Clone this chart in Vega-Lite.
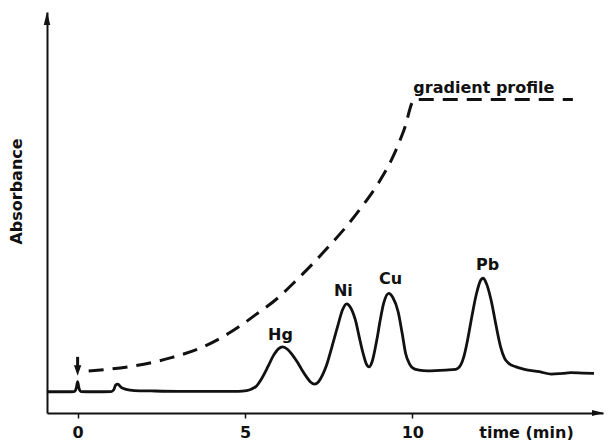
{
  "$schema": "https://vega.github.io/schema/vega-lite/v6.json",
  "width": 556,
  "height": 401,
  "autosize": {"type": "none"},
  "padding": {"left": 47, "top": 12, "right": 5, "bottom": 27},
  "background": "white",
  "config": {"view": {"stroke": null}, "font": "DejaVu Sans"},
  "datasets": {
    "trace": [
      {"t": -0.92, "A": 5.3}, {"t": -0.3, "A": 5.3}, {"t": -0.1, "A": 5.35}, {"t": -0.04, "A": 6.2}, {"t": 0, "A": 7.8}, {"t": 0.04, "A": 6.2}, {"t": 0.1, "A": 5.35},
      {"t": 0.5, "A": 5.3}, {"t": 1.0, "A": 5.35}, {"t": 1.08, "A": 5.8}, {"t": 1.14, "A": 7.0}, {"t": 1.2, "A": 7.2}, {"t": 1.3, "A": 6.4}, {"t": 1.45, "A": 5.9},
      {"t": 1.7, "A": 5.6}, {"t": 2.2, "A": 5.5}, {"t": 3.0, "A": 5.4}, {"t": 4.0, "A": 5.4}, {"t": 4.8, "A": 5.4}, {"t": 5.05, "A": 5.6}, {"t": 5.2, "A": 6.0},
      {"t": 5.34, "A": 6.7}, {"t": 5.5, "A": 8.6}, {"t": 5.69, "A": 11.6}, {"t": 5.85, "A": 14.3}, {"t": 6.0, "A": 16.0}, {"t": 6.13, "A": 16.5}, {"t": 6.27, "A": 15.9},
      {"t": 6.4, "A": 14.7}, {"t": 6.55, "A": 12.9}, {"t": 6.7, "A": 10.8}, {"t": 6.84, "A": 9.0}, {"t": 6.95, "A": 7.8}, {"t": 7.08, "A": 7.2}, {"t": 7.2, "A": 7.8},
      {"t": 7.32, "A": 9.5}, {"t": 7.43, "A": 11.7}, {"t": 7.6, "A": 16.5}, {"t": 7.77, "A": 21.6}, {"t": 7.92, "A": 25.8}, {"t": 8.04, "A": 27.2}, {"t": 8.15, "A": 26.4},
      {"t": 8.3, "A": 23.2}, {"t": 8.42, "A": 18.8}, {"t": 8.53, "A": 14.9}, {"t": 8.63, "A": 12.2}, {"t": 8.71, "A": 11.5}, {"t": 8.8, "A": 12.8}, {"t": 8.94, "A": 18.2},
      {"t": 9.05, "A": 23.5}, {"t": 9.15, "A": 27.5}, {"t": 9.3, "A": 29.85}, {"t": 9.42, "A": 28.8}, {"t": 9.58, "A": 25.2}, {"t": 9.7, "A": 19.8}, {"t": 9.8, "A": 14.9},
      {"t": 9.92, "A": 12.2}, {"t": 10.04, "A": 11.1}, {"t": 10.2, "A": 10.7}, {"t": 10.45, "A": 10.5}, {"t": 11.0, "A": 10.7}, {"t": 11.3, "A": 10.9}, {"t": 11.45, "A": 12.0},
      {"t": 11.54, "A": 14.0}, {"t": 11.66, "A": 18.5}, {"t": 11.78, "A": 24.0}, {"t": 11.92, "A": 29.8}, {"t": 12.05, "A": 33.2}, {"t": 12.12, "A": 33.6}, {"t": 12.2, "A": 32.6},
      {"t": 12.36, "A": 28.0}, {"t": 12.5, "A": 22.0}, {"t": 12.64, "A": 16.5}, {"t": 12.76, "A": 13.6}, {"t": 12.88, "A": 12.4}, {"t": 13.1, "A": 11.5}, {"t": 13.35, "A": 10.9},
      {"t": 13.8, "A": 10.3}, {"t": 14.16, "A": 9.7}, {"t": 14.5, "A": 9.9}, {"t": 14.74, "A": 10.05}, {"t": 15.1, "A": 9.95}, {"t": 15.43, "A": 9.9}
    ],
    "gradient": [
      {"t": 0.33, "A": 10.5}, {"t": 1.5, "A": 11.5}, {"t": 2.8, "A": 13.8}, {"t": 3.7, "A": 16.3}, {"t": 4.6, "A": 20.3}, {"t": 5.4, "A": 25.0},
      {"t": 6.0, "A": 28.8}, {"t": 6.5, "A": 32.8}, {"t": 7.0, "A": 37.0}, {"t": 7.5, "A": 41.5}, {"t": 8.0, "A": 46.2}, {"t": 8.5, "A": 51.5},
      {"t": 9.0, "A": 57.5}, {"t": 9.4, "A": 63.5}, {"t": 9.75, "A": 70.5}, {"t": 10.07, "A": 78.2}, {"t": 14.8, "A": 78.2}
    ],
    "labels": [
      {"t": 6.06, "A": 19.45, "label": "Hg"},
      {"t": 7.94, "A": 30.5, "label": "Ni"},
      {"t": 9.35, "A": 33.3, "label": "Cu"},
      {"t": 12.25, "A": 36.9, "label": "Pb"},
      {"t": 12.14, "A": 81.0, "label": "gradient profile"}
    ],
    "arrows": [
      {"name": "xaxis", "t": 15.55, "A": 0},
      {"name": "yaxis", "t": -0.915, "A": 98.4},
      {"name": "inject", "t": 0, "A": 10.6, "A2": 14.0}
    ]
  },
  "encoding": {
    "x": {"field": "t", "type": "quantitative", "scale": {"domain": [-0.915, 15.7], "nice": false, "zero": false},
      "axis": {"values": [0, 5, 10], "title": "time (min)", "titleX": 479, "titleY": 19, "titleAlign": "center", "titleBaseline": "middle",
        "titleFont": "DejaVu Sans", "titleFontSize": 16, "titleFontWeight": "bold", "titleColor": "#111",
        "labelFont": "DejaVu Sans", "labelFontSize": 16, "labelFontWeight": "bold", "labelColor": "#111", "labelBaseline": "middle", "labelPadding": 14,
        "tickColor": "#111", "tickSize": 5, "tickWidth": 1.5, "domainColor": "#111", "domainWidth": 2, "grid": false}},
    "y": {"field": "A", "type": "quantitative", "scale": {"domain": [0, 100], "nice": false},
      "axis": {"labels": false, "ticks": false, "grid": false, "domainColor": "#111", "domainWidth": 2,
        "title": "Absorbance", "titleX": -31, "titleY": 179, "titleAlign": "center", "titleBaseline": "middle",
        "titleFont": "DejaVu Sans", "titleFontSize": 16, "titleFontWeight": "bold", "titleColor": "#111"}}
  },
  "layer": [
    {"data": {"name": "trace"}, "mark": {"type": "line", "interpolate": "monotone", "color": "#111", "strokeWidth": 2.8}},
    {"data": {"name": "gradient"}, "mark": {"type": "line", "interpolate": "monotone", "color": "#111", "strokeWidth": 3, "strokeDash": [15, 9]}},
    {"data": {"name": "labels"}, "mark": {"type": "text", "font": "DejaVu Sans", "fontSize": 16, "fontWeight": "bold", "color": "#111", "align": "center", "baseline": "middle"},
      "encoding": {"text": {"field": "label"}}},
    {"data": {"name": "arrows"}, "transform": [{"filter": "datum.name == 'xaxis'"}],
      "mark": {"type": "point", "shape": "M1,0L-1,-0.5L-1,0.5Z", "size": 144, "filled": true, "color": "#111", "opacity": 1}},
    {"data": {"name": "arrows"}, "transform": [{"filter": "datum.name == 'yaxis'"}],
      "mark": {"type": "point", "shape": "M0,-1L0.5,1L-0.5,1Z", "size": 169, "filled": true, "color": "#111", "opacity": 1}},
    {"data": {"name": "arrows"}, "transform": [{"filter": "datum.name == 'inject'"}],
      "mark": {"type": "rule", "color": "#111", "strokeWidth": 3},
      "encoding": {"y2": {"field": "A2"}}},
    {"data": {"name": "arrows"}, "transform": [{"filter": "datum.name == 'inject'"}],
      "mark": {"type": "point", "shape": "M0,1L0.7,-1L-0.7,-1Z", "size": 110, "filled": true, "color": "#111", "opacity": 1}}
  ]
}
